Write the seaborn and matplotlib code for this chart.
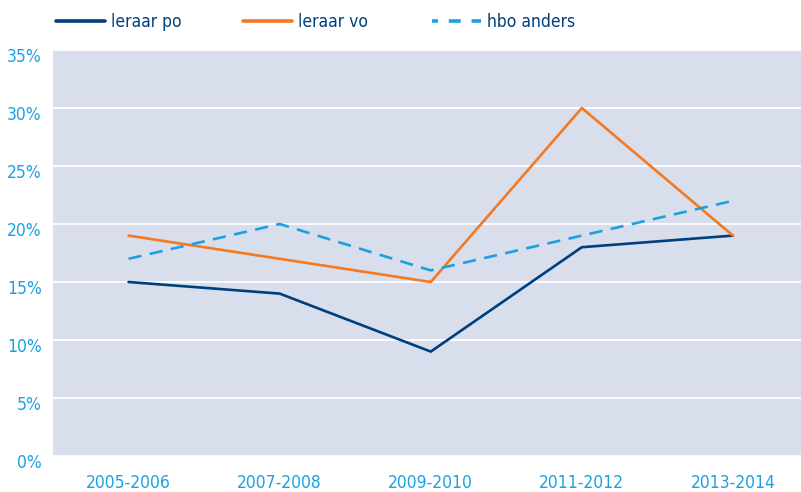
import pandas as pd
import seaborn as sns
import matplotlib.pyplot as plt
import matplotlib.transforms as mtransforms
from matplotlib.ticker import PercentFormatter

periods = ["2005-2006", "2007-2008", "2009-2010", "2011-2012", "2013-2014"]
leraar_po = [15, 14, 9, 18, 19]
leraar_vo = [19, 17, 15, 30, 19]
hbo_anders = [17, 20, 16, 19, 22]

series = ["leraar po", "leraar vo", "hbo anders"]
colors = {"leraar po": "#003f7d", "leraar vo": "#f47920", "hbo anders": "#1ba1e2"}

df = pd.DataFrame({
    "periode": periods * 3,
    "waarde": leraar_po + leraar_vo + hbo_anders,
    "groep": [s for s in series for _ in periods],
})
df["x"] = df["periode"].map({p: i for i, p in enumerate(periods)})

sns.set_style("white")
plt.rcParams["font.family"] = ["DejaVu Sans"]
plt.rcParams["font.stretch"] = "condensed"

fig = plt.figure(figsize=(8.01, 4.92), dpi=100)
# axes runs slightly past the right edge, like the reference
ax = fig.add_axes([53 / 801, 1 - 456 / 492, (808.5 - 53) / 801, (456 - 50) / 492])
ax.set_facecolor("#d8deeb")

sns.lineplot(data=df, x="x", y="waarde", hue="groep", style="groep",
             palette=colors, dashes={"leraar po": "", "leraar vo": "", "hbo anders": (5, 3.2)},
             linewidth=1.9, ax=ax, legend=False, zorder=3)

ax.set_xlim(-0.5, 4.5)
ax.set_ylim(0, 35)
ax.set_yticks(range(0, 36, 5))
ax.yaxis.set_major_formatter(PercentFormatter(decimals=0))
ax.set_xticks(range(len(periods)))
ax.set_xticklabels(periods)
ax.grid(axis="y", color="white", linewidth=1.3)
ax.set_axisbelow(True)
for s in ax.spines.values():
    s.set_visible(False)
ax.tick_params(length=0, labelsize=12.5, labelcolor="#1ba1e2")
ax.tick_params(axis="y", pad=8)
ax.tick_params(axis="x", pad=13)
ax.set_xlabel("")
ax.set_ylabel("")

# y labels sit a few pixels below their gridline in the reference
offset = mtransforms.ScaledTranslation(0, -5 / 100, fig.dpi_scale_trans)
for lab in ax.get_yticklabels():
    lab.set_transform(lab.get_transform() + offset)

# one legend entry per series, placed where the reference has them
handles = [
    plt.Line2D([], [], color=colors["leraar po"], lw=2.6),
    plt.Line2D([], [], color=colors["leraar vo"], lw=2.6),
    plt.Line2D([], [], color=colors["hbo anders"], lw=2.6, linestyle=(1.65, (3.3, 3.0))),
]
starts = [56, 243, 432]
for h, name, x0 in zip(handles, series, starts):
    fig.legend([h], [name], loc="center left", bbox_to_anchor=(x0 / 801, 1 - 22 / 492),
               frameon=False, fontsize=12.5, handlelength=2.85, handletextpad=0.3,
               borderpad=0, borderaxespad=0, labelcolor="#003f7d")

fig.savefig("out.png", dpi=100)
